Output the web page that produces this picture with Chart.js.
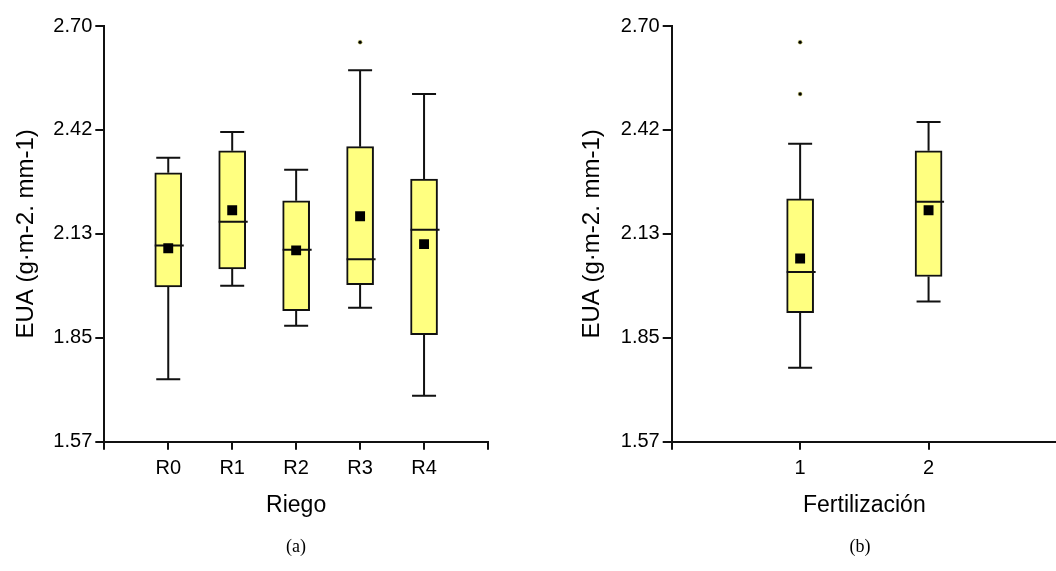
<!DOCTYPE html>
<html>
<head>
<meta charset="utf-8">
<script src="https://cdn.jsdelivr.net/npm/chart.js@4/dist/chart.umd.min.js"></script>
<style>
  body { margin: 0; background: #fff; overflow: hidden; }
  .panel { position: absolute; top: 0; width: 528px; height: 571px; }
  .caption { position: absolute; top: 536px; width: 60px; text-align: center;
             font-family: "Liberation Serif", "Times New Roman", serif; font-size: 18px; color: #000; }
</style>
</head>
<body>
<div class="panel" style="left:0"><canvas id="riegoChart"></canvas></div>
<!-- el eje X de este panel sigue hasta el borde derecho -->
<div class="panel" style="left:528px; width:536px"><canvas id="fertChart"></canvas></div>
<div class="caption" style="left:266px">(a)</div>
<div class="caption" style="left:830px">(b)</div>

<script>
// Eje Y común
const yTickValues = [1.57, 1.8525, 2.135, 2.4175, 2.70];
const yTickLabels = ['1.57', '1.85', '2.13', '2.42', '2.70'];

// Riego
const riegoLabels   = ['R0', 'R1', 'R2', 'R3', 'R4'];
const riegoMin      = [1.740, 1.994, 1.885, 1.934, 1.695];
const riegoQ1       = [1.991, 2.040, 1.926, 1.997, 1.861];
const riegoMedian   = [2.103, 2.168, 2.092, 2.066, 2.146];
const riegoQ3       = [2.301, 2.361, 2.225, 2.372, 2.284];
const riegoMax      = [2.342, 2.412, 2.309, 2.580, 2.515];
const riegoMean     = [2.096, 2.199, 2.090, 2.183, 2.107];
const riegoOutliers = [[], [], [], [2.656], []];

// Fertilización
const fertLabels   = ['1', '2'];
const fertMin      = [1.771, 1.951];
const fertQ1       = [1.921, 2.019];
const fertMedian   = [2.031, 2.222];
const fertQ3       = [2.230, 2.361];
const fertMax      = [2.380, 2.439];
const fertMean     = [2.068, 2.199];
const fertOutliers = [[2.656, 2.515], []];

const INK = '#111';
const FILL = '#ffff80';
const SANS = '"Liberation Sans", Arial, sans-serif';

// bigotes, topes y mediana (se dibujan justo después de las cajas)
const boxLines = {
  id: 'boxLines',
  afterDatasetDraw(chart, args, opts) {
    if (args.index !== 0) return;
    const { ctx, scales: { x, y } } = chart;
    const half = opts.boxWidth / 2;
    ctx.save();
    ctx.strokeStyle = INK;
    ctx.lineWidth = 2;
    opts.median.forEach((med, i) => {
      const cx = x.getPixelForValue(i + 1);
      ctx.beginPath();
      // bigote superior
      ctx.moveTo(cx, y.getPixelForValue(opts.q3[i]));
      ctx.lineTo(cx, y.getPixelForValue(opts.max[i]));
      ctx.moveTo(cx - opts.capWidth / 2, y.getPixelForValue(opts.max[i]));
      ctx.lineTo(cx + opts.capWidth / 2, y.getPixelForValue(opts.max[i]));
      // bigote inferior
      ctx.moveTo(cx, y.getPixelForValue(opts.q1[i]));
      ctx.lineTo(cx, y.getPixelForValue(opts.min[i]));
      ctx.moveTo(cx - opts.capWidth / 2, y.getPixelForValue(opts.min[i]));
      ctx.lineTo(cx + opts.capWidth / 2, y.getPixelForValue(opts.min[i]));
      // mediana
      ctx.moveTo(cx - half, y.getPixelForValue(med));
      ctx.lineTo(cx + half + 2, y.getPixelForValue(med));
      ctx.stroke();
    });
    ctx.restore();
  }
};

function makeBoxChart(id, s) {
  const boxes = s.labels.map((_, i) => ({ x: i + 1, y: [s.q1[i], s.q3[i]] }));
  const means = s.labels.map((_, i) => ({ x: i + 1, y: s.mean[i] }));
  const outs = [];
  s.outliers.forEach((list, i) => list.forEach(v => outs.push({ x: i + 1, y: v })));
  const xTicks = [];
  for (let v = 0; v <= s.xMax; v++) xTicks.push(v);

  return new Chart(document.getElementById(id), {
    type: 'bar',
    data: {
      datasets: [
        {
          data: boxes,
          order: 2,
          backgroundColor: FILL,
          borderColor: INK,
          borderWidth: 2,
          borderSkipped: false,
          barThickness: 27
        },
        {
          type: 'scatter',
          data: means,
          order: 1,
          pointStyle: 'rect',
          pointRadius: 7,
          backgroundColor: '#000',
          borderWidth: 0
        },
        {
          type: 'scatter',
          data: outs,
          order: 0,
          pointStyle: 'circle',
          pointRadius: 2,
          backgroundColor: '#000',
          borderColor: '#d8d860',
          borderWidth: 0.5
        }
      ]
    },
    options: {
      responsive: true,
      maintainAspectRatio: false,
      animation: false,
      layout: { padding: { top: 26, right: s.padRight, bottom: 0, left: 0 } },
      plugins: {
        legend: { display: false },
        tooltip: { enabled: false },
        boxLines: {
          boxWidth: 27, capWidth: 24,
          q1: s.q1, q3: s.q3, min: s.min, max: s.max, median: s.median
        }
      },
      scales: {
        x: {
          type: 'linear',
          min: 0,
          max: s.xMax,
          offset: false,
          afterBuildTicks: sc => { sc.ticks = xTicks.map(v => ({ value: v })); },
          afterFit: sc => { sc.height = 129.3; },
          ticks: {
            callback: v => s.labels[v - 1] || '',
            color: '#000',
            font: { family: SANS, size: 20 },
            padding: 7,
            maxRotation: 0,
            autoSkip: false
          },
          grid: { drawOnChartArea: false, drawTicks: true, tickLength: 8, color: INK, lineWidth: 2, offset: false },
          border: { color: INK, width: 2 },
          title: {
            display: true, text: s.xTitle, color: '#000',
            font: { family: SANS, size: 23 },
            padding: { top: 0, bottom: 52 }
          }
        },
        y: {
          type: 'linear',
          min: 1.57,
          max: 2.70,
          afterBuildTicks: sc => { sc.ticks = yTickValues.map(v => ({ value: v })); },
          afterFit: sc => { sc.width = s.yWidth; },
          ticks: {
            callback: (v, i) => yTickLabels[i],
            color: '#000',
            font: { family: SANS, size: 20 },
            padding: 3
          },
          grid: { drawOnChartArea: false, drawTicks: true, tickLength: 9, color: INK, lineWidth: 2 },
          border: { color: INK, width: 2 },
          title: {
            display: true, text: 'EUA (g·m-2. mm-1)', color: '#000',
            font: { family: SANS, size: 24 },
            padding: { top: s.yTitlePad, bottom: 0 }
          }
        }
      }
    },
    plugins: [boxLines]
  });
}

makeBoxChart('riegoChart', {
  labels: riegoLabels, min: riegoMin, q1: riegoQ1, median: riegoMedian,
  q3: riegoQ3, max: riegoMax, mean: riegoMean, outliers: riegoOutliers,
  xTitle: 'Riego', xMax: 6, yWidth: 104.3, yTitlePad: 12, padRight: 40
});

makeBoxChart('fertChart', {
  labels: fertLabels, min: fertMin, q1: fertQ1, median: fertMedian,
  q3: fertQ3, max: fertMax, mean: fertMean, outliers: fertOutliers,
  xTitle: 'Fertilización', xMax: 3, yWidth: 143.7, yTitlePad: 50, padRight: 0
});
</script>
</body>
</html>
